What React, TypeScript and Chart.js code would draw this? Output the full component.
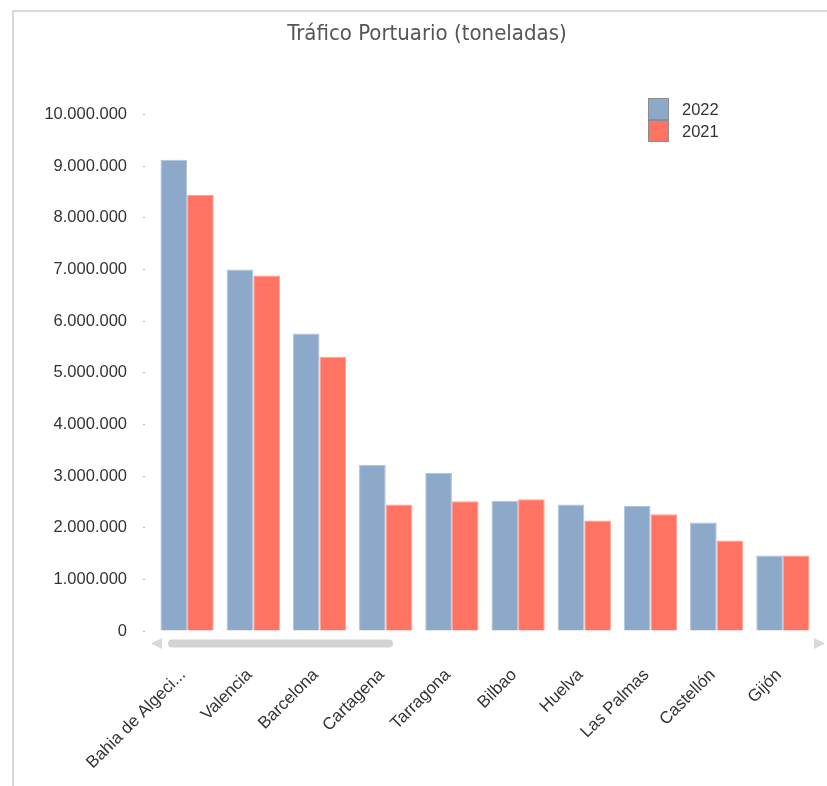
import React, { useEffect, useRef } from "react";
import { Chart, registerables } from "chart.js";

Chart.register(...registerables);

const categories = [
  "Bahia de Algeci...",
  "Valencia",
  "Barcelona",
  "Cartagena",
  "Tarragona",
  "Bilbao",
  "Huelva",
  "Las Palmas",
  "Castellón",
  "Gijón",
];
const seriesNames = ["2022", "2021"];
const values2022 = [9120000, 7000000, 5760000, 3220000, 3060000, 2520000, 2450000, 2420000, 2100000, 1460000];
const values2021 = [8440000, 6880000, 5310000, 2450000, 2510000, 2550000, 2140000, 2260000, 1750000, 1460000];
const yMin = 0;
const yMax = 10000000;
const yStep = 1000000;
const chartTitle = "Tráfico Portuario (toneladas)";

const FONT = '"Liberation Sans", Arial, sans-serif';
const TITLE_FONT = '"Liberation Sans Narrow", "DejaVu Sans Condensed", "Liberation Sans", sans-serif';

function fmtThousands(v: number): string {
  return String(Math.round(v)).replace(/\B(?=(\d{3})+(?!\d))/g, ".");
}

const boxLegend = {
  id: "boxLegend",
  afterDraw(chart: any) {
    const ctx = chart.ctx;
    const x = 648;
    const y0 = 98;
    const w = 21;
    const h = 22;
    chart.data.datasets.forEach((ds: any, i: number) => {
      const y = y0 + i * h;
      ctx.save();
      ctx.fillStyle = ds.backgroundColor;
      ctx.fillRect(x, y, w, h);
      ctx.strokeStyle = "#8c8c8c";
      ctx.lineWidth = 1;
      ctx.strokeRect(x + 0.5, y + 0.5, w - 1, h - 1);
      ctx.fillStyle = "#333333";
      ctx.font = "16.5px " + FONT;
      ctx.textAlign = "left";
      ctx.textBaseline = "middle";
      ctx.fillText(ds.label, x + 34, y + h / 2 + 1);
      ctx.restore();
    });
  },
};

const scrollBar = {
  id: "scrollBar",
  afterDraw(chart: any) {
    const ctx = chart.ctx;
    const a = chart.chartArea;
    const cy = a.bottom + 12.5;
    ctx.save();
    ctx.fillStyle = "#d9d9d9";
    ctx.beginPath();
    ctx.moveTo(a.left - 3, cy);
    ctx.lineTo(a.left + 8, cy - 5.5);
    ctx.lineTo(a.left + 8, cy + 5.5);
    ctx.closePath();
    ctx.fill();
    ctx.beginPath();
    ctx.moveTo(a.right + 9, cy);
    ctx.lineTo(a.right - 2, cy - 5.5);
    ctx.lineTo(a.right - 2, cy + 5.5);
    ctx.closePath();
    ctx.fill();
    ctx.fillStyle = "#d3d3d3";
    const bx = a.left + 14;
    const bw = 225;
    const bh = 8;
    const by = cy - bh / 2;
    const r = 4;
    ctx.beginPath();
    ctx.moveTo(bx + r, by);
    ctx.lineTo(bx + bw - r, by);
    ctx.arc(bx + bw - r, by + r, r, -Math.PI / 2, Math.PI / 2);
    ctx.lineTo(bx + r, by + bh);
    ctx.arc(bx + r, by + r, r, Math.PI / 2, (3 * Math.PI) / 2);
    ctx.closePath();
    ctx.fill();
    ctx.restore();
  },
};

export default function App() {
  const ref = useRef<HTMLCanvasElement | null>(null);

  useEffect(() => {
    if (!ref.current) return;
    const chart = new Chart(ref.current, {
      type: "bar",
      data: {
        labels: categories,
        datasets: [
          {
            label: seriesNames[0],
            data: values2022,
            backgroundColor: "#8DA9CA",
            borderColor: "#afc3da",
            borderWidth: 1,
            categoryPercentage: 0.805,
            barPercentage: 1,
          },
          {
            label: seriesNames[1],
            data: values2021,
            backgroundColor: "#FF7362",
            borderColor: "#ff9f92",
            borderWidth: 1,
            categoryPercentage: 0.805,
            barPercentage: 1,
          },
        ],
      },
      options: {
        responsive: false,
        animation: false,
        devicePixelRatio: 1,
        layout: { padding: { left: 38, right: 11, top: 0, bottom: 0 } },
        plugins: {
          legend: { display: false },
          tooltip: { enabled: false },
          title: {
            display: true,
            text: chartTitle,
            color: "#555555",
            font: { family: TITLE_FONT, size: 22, weight: "normal" },
            padding: { top: 21, bottom: 67 },
          },
        },
        scales: {
          x: {
            offset: true,
            grid: { display: false, drawTicks: false },
            border: { display: false },
            ticks: {
              autoSkip: false,
              minRotation: 45,
              maxRotation: 45,
              padding: 34,
              labelOffset: -4,
              color: "#333333",
              font: { family: FONT, size: 17 },
            },
            afterFit: (s: any) => {
              s.height = 155;
              s.paddingLeft = 0;
              s.paddingRight = 0;
            },
          },
          y: {
            min: yMin,
            max: yMax,
            border: { display: false },
            grid: {
              drawOnChartArea: false,
              drawTicks: true,
              tickLength: 11,
              tickColor: "#bdbdbd",
              tickWidth: 1,
              tickBorderDash: [2, 100],
            },
            ticks: {
              stepSize: yStep,
              padding: 16,
              color: "#333333",
              font: { family: FONT, size: 16.5 },
              callback: (v: any) => fmtThousands(Number(v)),
            },
            afterFit: (s: any) => {
              s.width = 116;
            },
          },
        },
      },
      plugins: [boxLegend, scrollBar],
    } as any);
    return () => chart.destroy();
  }, []);

  return (
    <div style={{ position: "absolute", left: 0, top: 0, width: 827, height: 786, background: "#ffffff" }}>
      <div
        style={{
          position: "absolute",
          left: 12,
          top: 10,
          width: 813,
          height: 774,
          borderLeft: "2px solid #d9d9d9",
          borderTop: "2px solid #d9d9d9",
        }}
      />
      <canvas
        ref={ref}
        width={827}
        height={786}
        style={{ position: "absolute", left: 0, top: 0, width: 827, height: 786 }}
      />
    </div>
  );
}
